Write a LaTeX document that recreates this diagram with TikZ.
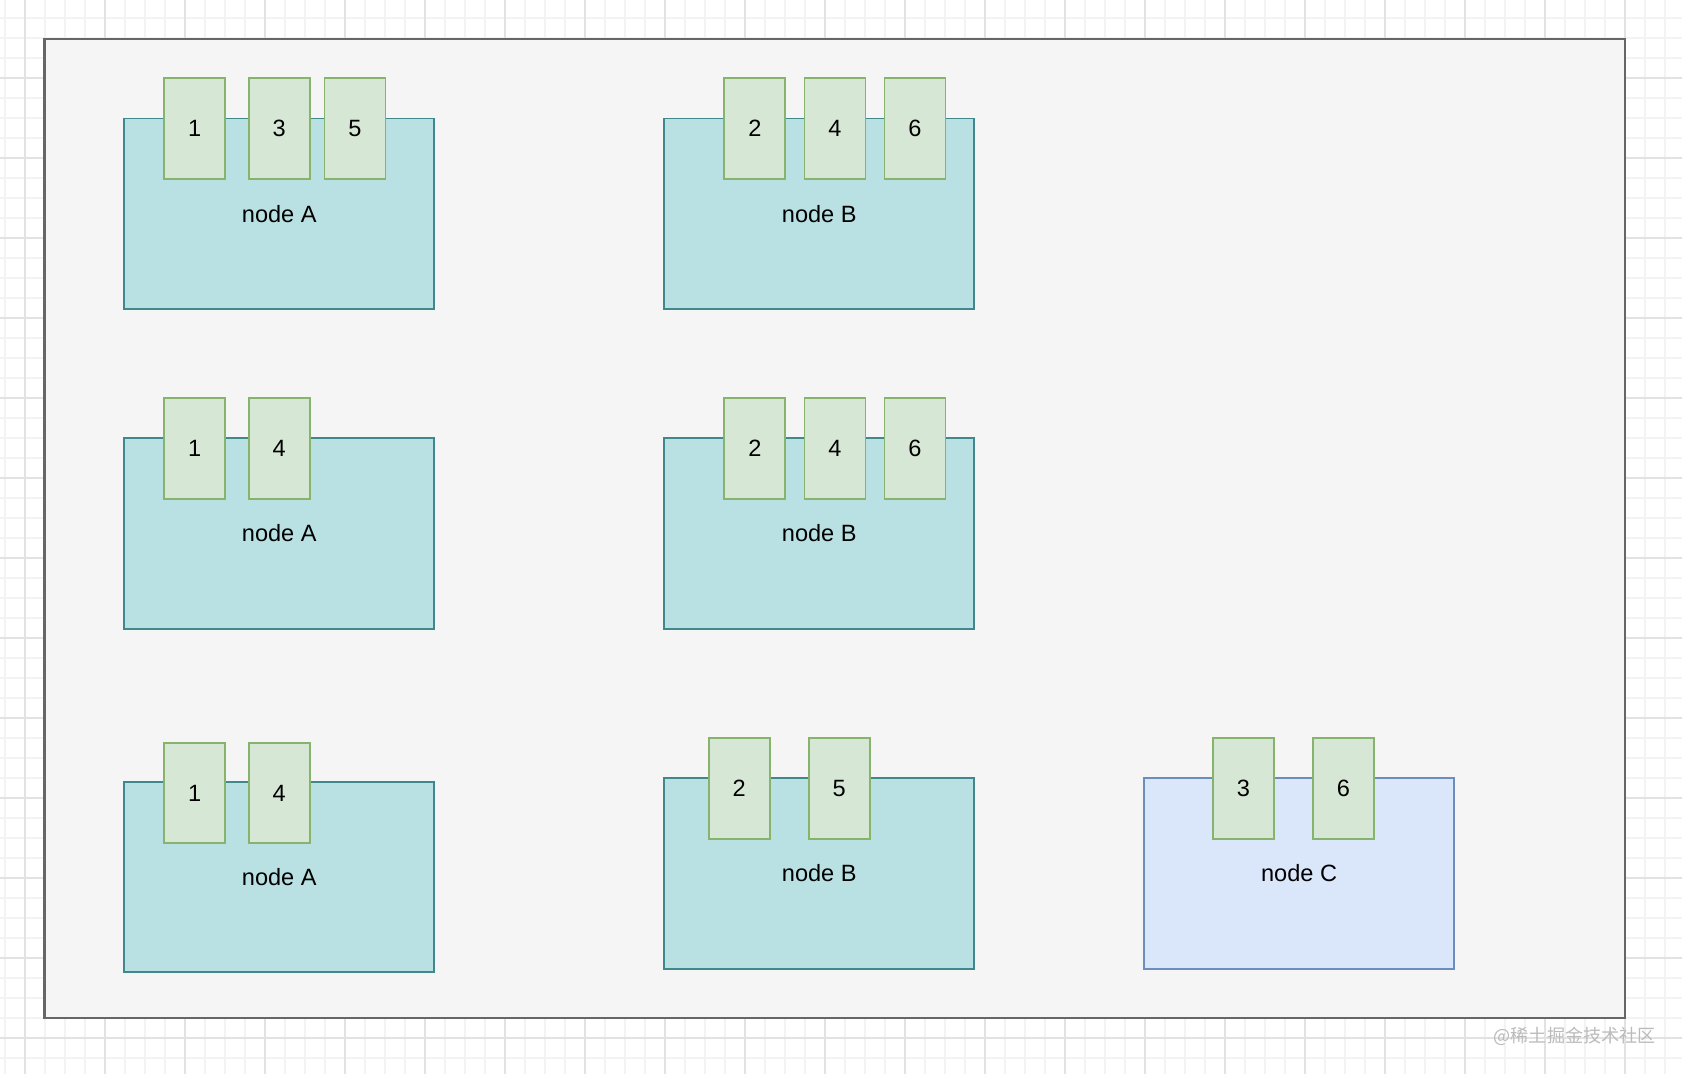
\documentclass[tikz,border=0pt]{standalone}
\usepackage{fontspec}
\setmainfont{Liberation Sans}
\newfontfamily\cjkfont{Noto Sans CJK SC}
\definecolor{gridfaint}{HTML}{F3F3F3}
\definecolor{gridline}{HTML}{E2E2E2}
\definecolor{framefill}{HTML}{F5F5F5}
\definecolor{framedraw}{HTML}{666666}
\definecolor{hostfill}{HTML}{B9E1E3}
\definecolor{hostdraw}{HTML}{3F888E}
\definecolor{newfill}{HTML}{DAE6FA}
\definecolor{newdraw}{HTML}{6C8EBF}
\definecolor{shardfill}{HTML}{D7E7D5}
\definecolor{sharddraw}{HTML}{86B46C}
\definecolor{markgrey}{HTML}{BBBBBB}

\begin{document}
\begin{tikzpicture}[x=0.01cm, y=-0.01cm, font=\fontsize{6.7}{8}\selectfont,
  host/.style={draw=hostdraw, fill=hostfill, line width=0.55pt,
               minimum width=3.1cm, minimum height=1.9cm, inner sep=0pt},
  newhost/.style={host, draw=newdraw, fill=newfill},
  shard/.style={draw=sharddraw, fill=shardfill, line width=0.55pt,
                minimum width=0.61cm, minimum height=1.005cm, inner sep=0pt},
  wmark/.style={font=\cjkfont\fontsize{5.15}{6}\selectfont, text=markgrey, inner sep=0pt}]

\useasboundingbox (0,0) rectangle (1682,1074);
\fill[white] (0,0) rectangle (1682,1074);

% canvas grid
\foreach \gx in {5,25,...,1685}{\draw[gridfaint, line width=0.3pt] (\gx,0) -- (\gx,1074);}
\foreach \gy in {-2,18,...,1078}{\draw[gridfaint, line width=0.3pt] (0,\gy) -- (1682,\gy);}
\foreach \gx in {25,105,...,1665}{\draw[gridline, line width=0.3pt] (\gx,0) -- (\gx,1074);}
\foreach \gy in {78,158,...,1078}{\draw[gridline, line width=0.3pt] (0,\gy) -- (1682,\gy);}

% cluster frame
\draw[framedraw, fill=framefill, line width=0.6pt] (44.5,39) rectangle (1625,1018.3);

% row 1
\node[host] (a1) at (279.25,213.6) {node A};
\foreach \n/\x in {1/194.8, 3/279.2, 5/355}{\node[shard] (a1s\n) at (\x,128.7) {\n};}
\node[host] (b1) at (819.25,213.6) {node B};
\foreach \n/\x in {2/754.8, 4/835, 6/915}{\node[shard] (b1s\n) at (\x,128.7) {\n};}

% row 2
\node[host] (a2) at (279.25,533.5) {node A};
\foreach \n/\x in {1/194.8, 4/279.2}{\node[shard] (a2s\n) at (\x,448.7) {\n};}
\node[host] (b2) at (819.25,533.5) {node B};
\foreach \n/\x in {2/754.8, 4/835, 6/915}{\node[shard] (b2s\n) at (\x,448.7) {\n};}

% row 3
\node[host] (a3) at (279.25,877.3) {node A};
\foreach \n/\x in {1/194.8, 4/279.2}{\node[shard] (a3s\n) at (\x,793) {\n};}
\node[host] (b3) at (819.25,873.5) {node B};
\foreach \n/\x in {2/739.2, 5/839.2}{\node[shard] (b3s\n) at (\x,788.7) {\n};}
\node[newhost] (c3) at (1299.1,873.5) {node C};
\foreach \n/\x in {3/1243.4, 6/1343.5}{\node[shard] (c3s\n) at (\x,788.7) {\n};}

\node[wmark, anchor=west] (mark) at (1493,1036) {@稀土掘金技术社区};

\end{tikzpicture}
\end{document}
